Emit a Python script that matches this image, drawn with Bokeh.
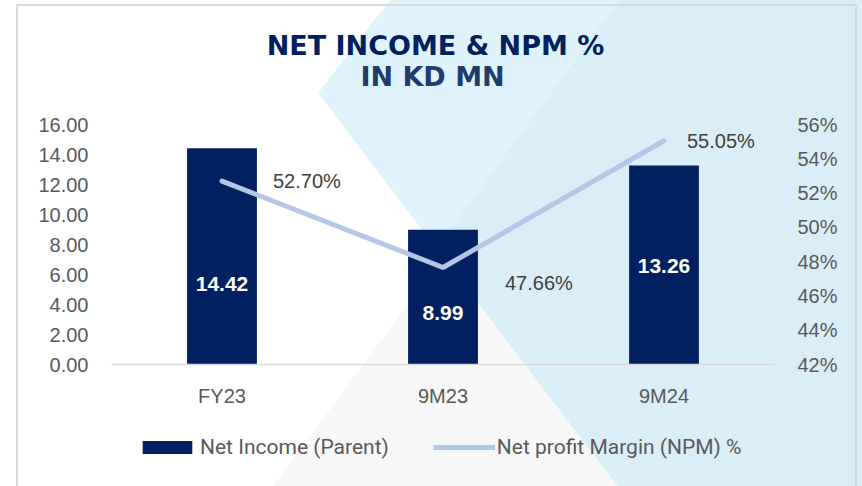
from urllib.parse import quote
from bokeh.plotting import figure
from bokeh.layouts import column
from bokeh.models import (ColumnDataSource, Range1d, LinearAxis, FixedTicker,
                          PrintfTickFormatter, Legend, LegendItem, Label,
                          FactorRange)
from bokeh.core.properties import value
from bokeh.embed import file_html
from bokeh.resources import INLINE

# ---- data ----
periods = ["FY23", "9M23", "9M24"]
net_income = [14.42, 8.99, 13.26]
npm_pct = [52.70, 47.66, 55.05]
left_ticks = [0, 2, 4, 6, 8, 10, 12, 14, 16]
right_ticks = [42, 44, 46, 48, 50, 52, 54, 56]
title_1 = "NET INCOME & NPM %"
title_2 = "IN KD MN"
legend_labels = ["Net Income (Parent)", "Net profit Margin (NPM) %"]

# ---- label nudges (style, pixels) ----
bar_label_dy = [28, 16, 1]
pct_label_dx = [51, 62, 23]
pct_label_dy = [0, 16, 0]

W, H = 862, 486
H_TITLE = 100
H_LEG = 66
NAVY = "#002060"
LINEC = "#b4c7e7"
TICKC = "#595959"
FONT = "Liberation Sans"

# decorative page background (pure CSS decoration, screen pixels)
bg_svg = (
    f"<svg xmlns='http://www.w3.org/2000/svg' width='{W}' height='{H}'>"
    f"<rect x='0' y='0' width='{W}' height='{H}' fill='#ffffff'/>"
    "<polygon points='390,0 619,0 436,248 318,93' fill='#dff3fc'/>"
    f"<polygon points='619,0 {W},0 {W},{H} 617,{H} 436,248' fill='#daeef8'/>"
    f"<polygon points='443,257 617,{H} 273,{H}' fill='#f7f7f7'/>"
    "<rect x='17' y='5' width='839' height='520' fill='none' stroke='#d9d9d9' stroke-width='2'/>"
    "</svg>"
)
bg_css = "url(\"data:image/svg+xml;charset=utf-8," + quote(bg_svg) + "\")"

src = ColumnDataSource(dict(
    period=periods,
    ni=net_income,
    ni_mid=[v / 2 for v in net_income],
    ni_txt=[f"{v:.2f}" for v in net_income],
    npm=npm_pct,
    npm_txt=[f"{v:.2f}%" for v in npm_pct],
    bdy=bar_label_dy,
    pdx=pct_label_dx,
    pdy=pct_label_dy,
))


def bare(fig):
    fig.background_fill_color = None
    fig.border_fill_color = None
    fig.outline_line_color = None


# ---- title strip ----
ttl = figure(width=W, height=H_TITLE, x_range=Range1d(0, 1), y_range=Range1d(0, 1),
             x_axis_type=None, y_axis_type=None, output_backend="svg",
             toolbar_location=None, min_border=0)
bare(ttl)
ttl.add_layout(Label(x=324, y=H_TITLE - 45, x_units="screen", y_units="screen",
                     text=title_1, text_align="center", text_baseline="middle",
                     text_color=NAVY, text_font="DejaVu Sans",
                     text_font_style="bold", text_font_size="27px"))
ttl.add_layout(Label(x=321, y=H_TITLE - 76, x_units="screen", y_units="screen",
                     text=title_2, text_align="center", text_baseline="middle",
                     text_color="#1f3d6b", text_font="DejaVu Sans",
                     text_font_style="bold", text_font_size="27px"))

# ---- main chart ----
p = figure(width=W, height=H - H_TITLE - H_LEG, x_range=FactorRange(*periods),
           y_range=Range1d(0, 16), output_backend="svg",
           toolbar_location=None, min_border_left=111, min_border_right=88,
           min_border_top=124 - H_TITLE, min_border_bottom=56)
bare(p)
p.xgrid.visible = False
p.ygrid.visible = False

p.yaxis.ticker = FixedTicker(ticks=left_ticks)
p.yaxis.formatter = PrintfTickFormatter(format="%.2f")
p.yaxis.axis_line_color = None
p.yaxis.major_tick_line_color = None
p.yaxis.minor_tick_line_color = None
p.yaxis.major_tick_out = 0
p.yaxis.major_label_standoff = 23
p.yaxis.major_label_text_font = FONT
p.yaxis.major_label_text_font_size = "20px"
p.yaxis.major_label_text_color = TICKC

p.xaxis.axis_line_color = "#d9d9d9"
p.xaxis.axis_line_width = 1.5
p.xaxis.major_tick_line_color = None
p.xaxis.minor_tick_line_color = None
p.xaxis.major_tick_out = 0
p.xaxis.major_label_standoff = 20
p.xaxis.major_label_text_font = FONT
p.xaxis.major_label_text_font_size = "20px"
p.xaxis.major_label_text_color = TICKC

p.extra_y_ranges = {"pct": Range1d(42, 56)}
ax2 = LinearAxis(y_range_name="pct", ticker=FixedTicker(ticks=right_ticks),
                 formatter=PrintfTickFormatter(format="%d%%"))
ax2.axis_line_color = None
ax2.major_tick_line_color = None
ax2.minor_tick_line_color = None
ax2.major_tick_out = 0
ax2.major_label_standoff = 23
ax2.major_label_text_font = FONT
ax2.major_label_text_font_size = "20px"
ax2.major_label_text_color = TICKC
p.add_layout(ax2, "right")

bars = p.vbar(x="period", top="ni", width=0.316, source=src,
              fill_color=NAVY, line_color=None)
line = p.line(x="period", y="npm", y_range_name="pct", source=src,
              line_color=LINEC, line_width=5, line_cap="round")

p.text(x="period", y="ni_mid", text="ni_txt", y_offset="bdy", source=src,
       text_align="center", text_baseline="middle", text_color="white",
       text_font=value(FONT), text_font_style="bold", text_font_size="21px")
p.text(x="period", y="npm", text="npm_txt", x_offset="pdx", y_offset="pdy",
       y_range_name="pct", source=src, text_align="left",
       text_baseline="middle", text_color="#404040",
       text_font=value(FONT), text_font_size="20px")

# ---- legend strip (same series, drawn out of view; only the legend shows) ----
leg = figure(width=W, height=H_LEG, x_range=p.x_range, y_range=Range1d(100, 101),
             x_axis_type=None, y_axis_type=None, output_backend="svg",
             toolbar_location=None, min_border=0)
bare(leg)
leg.xgrid.visible = False
leg.ygrid.visible = False
leg_bar = leg.vbar(x="period", top="ni", width=0.316, source=src,
                   fill_color=NAVY, line_color=None)
leg_line = leg.line(x="period", y="npm", source=src, line_color=LINEC, line_width=5)
legend = Legend(items=[LegendItem(label=legend_labels[0], renderers=[leg_bar]),
                       LegendItem(label=legend_labels[1], renderers=[leg_line])],
                location=(25, 27), orientation="horizontal",
                background_fill_alpha=0, border_line_color=None,
                padding=0, margin=0, spacing=44, label_standoff=2,
                glyph_width=62, glyph_height=16,
                label_text_font="Roboto", label_text_font_size="21px",
                label_text_color=TICKC)
leg.add_layout(legend)

layout = column(ttl, p, leg, spacing=0)
layout.styles = {"background-image": bg_css, "background-repeat": "no-repeat"}

open("out.html", "w").write(file_html(layout, INLINE))
